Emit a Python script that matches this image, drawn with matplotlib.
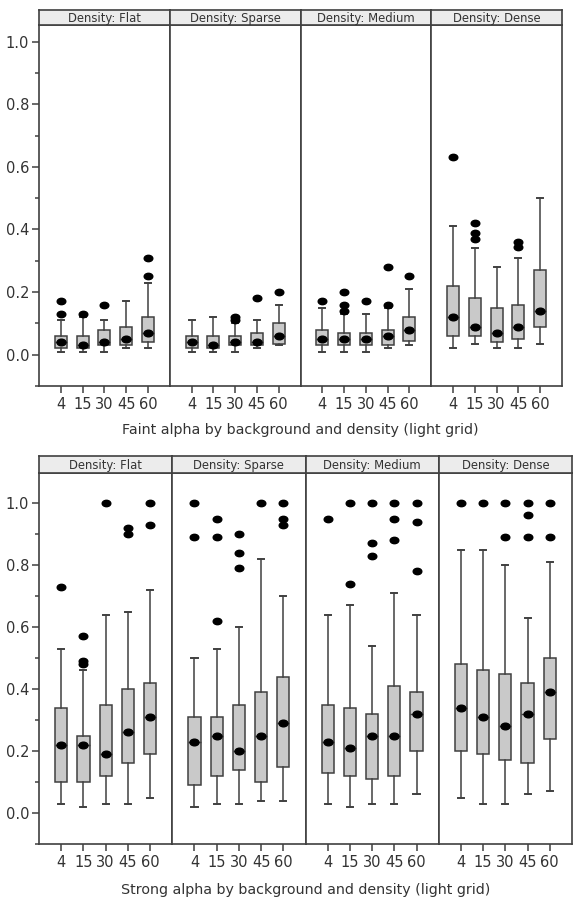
import matplotlib
matplotlib.use("Agg")
import matplotlib.pyplot as plt
from matplotlib.markers import MarkerStyle
from matplotlib.transforms import Affine2D

plt.rcParams["font.family"] = ["DejaVu Sans"]

sizes = ["4", "15", "30", "45", "60"]
densities = ["Flat", "Sparse", "Medium", "Dense"]

# each entry: (whisker low, q1, median, q3, whisker high, outliers)
faint_flat = [
    (0.01, 0.02, 0.04, 0.06, 0.11, [0.13, 0.17]),
    (0.01, 0.02, 0.03, 0.06, 0.12, [0.13]),
    (0.01, 0.03, 0.04, 0.08, 0.11, [0.16]),
    (0.02, 0.03, 0.05, 0.09, 0.17, []),
    (0.02, 0.04, 0.07, 0.12, 0.23, [0.25, 0.31]),
]
faint_sparse = [
    (0.01, 0.02, 0.04, 0.06, 0.11, []),
    (0.01, 0.02, 0.03, 0.06, 0.12, []),
    (0.01, 0.03, 0.04, 0.06, 0.10, [0.11, 0.12]),
    (0.02, 0.03, 0.04, 0.07, 0.11, [0.18]),
    (0.03, 0.035, 0.06, 0.10, 0.16, [0.20]),
]
faint_medium = [
    (0.01, 0.03, 0.05, 0.08, 0.15, [0.17]),
    (0.01, 0.03, 0.05, 0.07, 0.13, [0.14, 0.16, 0.20]),
    (0.01, 0.03, 0.05, 0.07, 0.13, [0.17]),
    (0.02, 0.03, 0.06, 0.08, 0.15, [0.16, 0.28]),
    (0.03, 0.045, 0.08, 0.12, 0.21, [0.25]),
]
faint_dense = [
    (0.02, 0.06, 0.12, 0.22, 0.41, [0.63]),
    (0.035, 0.06, 0.09, 0.18, 0.34, [0.37, 0.39, 0.42]),
    (0.02, 0.04, 0.07, 0.15, 0.28, []),
    (0.02, 0.05, 0.09, 0.16, 0.31, [0.345, 0.36]),
    (0.035, 0.09, 0.14, 0.27, 0.50, []),
]

strong_flat = [
    (0.03, 0.10, 0.22, 0.34, 0.53, [0.73]),
    (0.02, 0.10, 0.22, 0.25, 0.46, [0.48, 0.49, 0.57]),
    (0.03, 0.12, 0.19, 0.35, 0.64, [1.00]),
    (0.03, 0.16, 0.26, 0.40, 0.65, [0.90, 0.92]),
    (0.05, 0.19, 0.31, 0.42, 0.72, [0.93, 1.00]),
]
strong_sparse = [
    (0.02, 0.09, 0.23, 0.31, 0.50, [0.89, 1.00]),
    (0.03, 0.12, 0.25, 0.31, 0.53, [0.62, 0.89, 0.95]),
    (0.03, 0.14, 0.20, 0.35, 0.60, [0.79, 0.84, 0.90]),
    (0.04, 0.10, 0.25, 0.39, 0.82, [1.00]),
    (0.04, 0.15, 0.29, 0.44, 0.70, [0.93, 0.95, 1.00]),
]
strong_medium = [
    (0.03, 0.13, 0.23, 0.35, 0.64, [0.95]),
    (0.02, 0.12, 0.21, 0.34, 0.67, [0.74, 1.00]),
    (0.03, 0.11, 0.25, 0.32, 0.54, [0.83, 0.87, 1.00]),
    (0.03, 0.12, 0.25, 0.41, 0.71, [0.88, 0.95, 1.00]),
    (0.06, 0.20, 0.32, 0.39, 0.64, [0.78, 0.94, 1.00]),
]
strong_dense = [
    (0.05, 0.20, 0.34, 0.48, 0.85, [1.00]),
    (0.03, 0.19, 0.31, 0.46, 0.85, [1.00]),
    (0.03, 0.17, 0.28, 0.45, 0.80, [0.89, 1.00]),
    (0.06, 0.16, 0.32, 0.42, 0.63, [0.89, 0.96, 1.00]),
    (0.07, 0.24, 0.39, 0.50, 0.81, [0.89, 1.00]),
]

faint = [faint_flat, faint_sparse, faint_medium, faint_dense]
strong = [strong_flat, strong_sparse, strong_medium, strong_dense]

W, H = 573, 901
EDGE = "#404040"
BOXFILL = "#c9c9c9"
TEXT = "#333333"
dot = MarkerStyle("o", transform=Affine2D().scale(1.35, 1.0))


def px_axes(fig, x0, y0, x1, y1):
    """Axes placed with pixel coordinates measured from the top-left."""
    return fig.add_axes([x0 / W, (H - y1) / H, (x1 - x0) / W, (y1 - y0) / H])


def draw_panel(fig, groups, left, right, strip_top, top, bottom, ylim, xlabel, label_y):
    step = (right - left) / len(groups)
    for k, (name, stats) in enumerate(zip(densities, groups)):
        x0, x1 = left + k * step, left + (k + 1) * step
        ax = px_axes(fig, x0, top, x1, bottom)
        bxp_stats = [dict(whislo=s[0], q1=s[1], med=s[2], q3=s[3], whishi=s[4],
                          fliers=s[5]) for s in stats]
        ax.bxp(bxp_stats, positions=range(1, 6), widths=0.55, patch_artist=True,
               boxprops=dict(facecolor=BOXFILL, edgecolor=EDGE, linewidth=1.1),
               whiskerprops=dict(color=EDGE, linewidth=1.1),
               capprops=dict(color=EDGE, linewidth=1.4),
               medianprops=dict(color=EDGE, linewidth=1.0),
               flierprops=dict(marker=dot, markerfacecolor="black",
                               markeredgecolor="black", markersize=4.6),
               showfliers=True)
        ax.plot(range(1, 6), [s[2] for s in stats], linestyle="none", marker=dot,
                color="black", markersize=4.8, zorder=5)
        ax.set_xlim(0, 6)
        ax.set_ylim(*ylim)
        ax.set_xticks(range(1, 6))
        ax.set_xticklabels(sizes)
        ax.tick_params(axis="x", length=5, width=1.1, color=EDGE, pad=3,
                       labelsize=10.5, labelcolor=TEXT)
        for sp in ax.spines.values():
            sp.set_color(EDGE)
            sp.set_linewidth(1.2)
        if k == 0:
            ax.set_yticks([0.0, 0.2, 0.4, 0.6, 0.8, 1.0])
            ax.set_yticks([-0.1, 0.1, 0.3, 0.5, 0.7, 0.9], minor=True)
            ax.yaxis.set_major_formatter(plt.FuncFormatter(lambda v, p: f"{v:.1f}"))
            ax.tick_params(axis="y", which="major", length=5, width=1.1, color=EDGE,
                           pad=2, labelsize=10.5, labelcolor=TEXT)
            ax.tick_params(axis="y", which="minor", length=3, width=1.1, color=EDGE)
        else:
            ax.set_yticks([])
            ax.set_yticks([], minor=True)

        # facet header strip
        st = px_axes(fig, x0, strip_top, x1, top)
        st.set_facecolor("#ececec")
        st.set_xticks([])
        st.set_yticks([])
        for sp in st.spines.values():
            sp.set_color(EDGE)
            sp.set_linewidth(1.2)
        st.text(0.5, 0.45, f"Density: {name}", ha="center", va="center",
                fontsize=8.4, color=TEXT, transform=st.transAxes)

    fig.text((left + right) / 2 / W, 1 - label_y / H, xlabel, ha="center",
             va="center", fontsize=10.3, color=TEXT)


fig = plt.figure(figsize=(W / 100, H / 100), dpi=100)

draw_panel(fig, faint, 39, 562, 10, 25, 386, (-0.1, 1.053),
           "Faint alpha by background and density (light grid)", 430)
draw_panel(fig, strong, 39, 572, 456, 473, 844, (-0.1, 1.097),
           "Strong alpha by background and density (light grid)", 890)

fig.savefig("out.png", dpi=100)
